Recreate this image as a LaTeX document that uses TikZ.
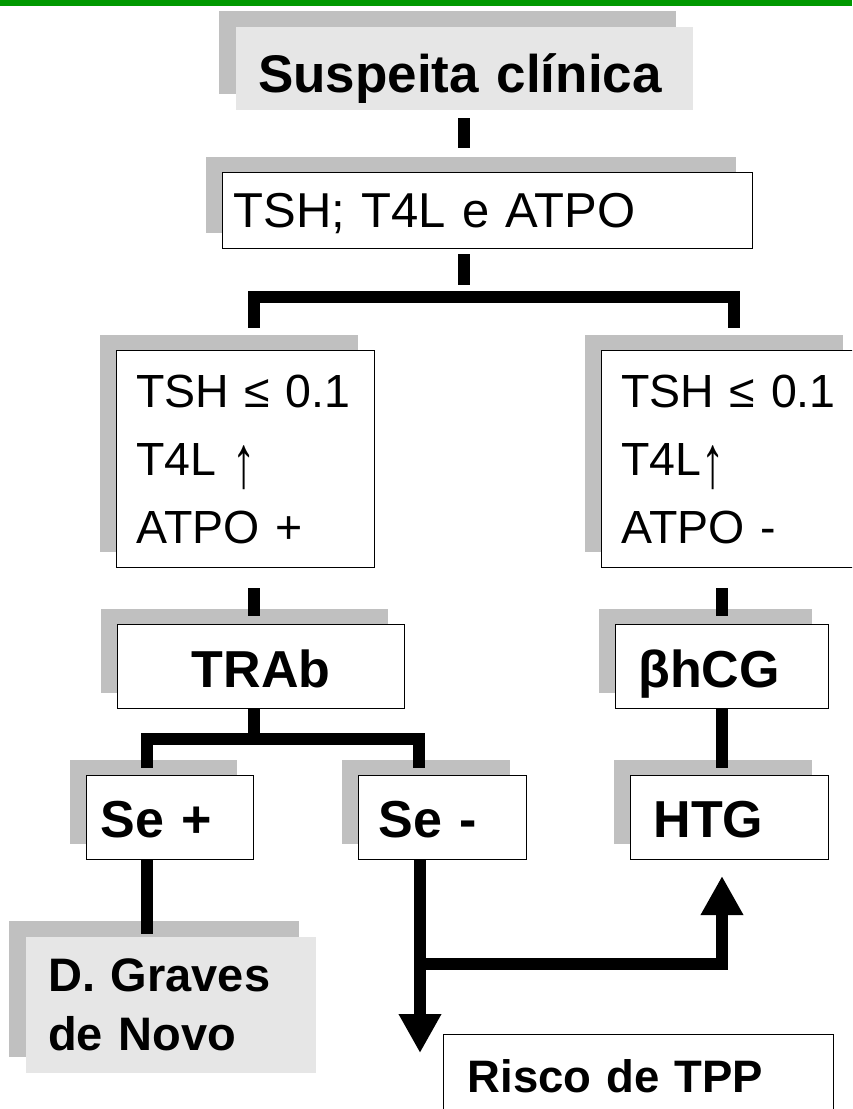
\documentclass[tikz,border=0pt]{standalone}
\usepackage{fontspec}
\setmainfont{Liberation Sans}
\usepackage{graphicx}
\usepackage{tikz}
\usetikzlibrary{arrows.meta,shadows,calc}
\definecolor{topgreen}{RGB}{0,153,0}
\definecolor{shadowgray}{RGB}{192,192,192}
\definecolor{lightgray}{RGB}{230,230,230}
\newcommand{\uparr}{\raisebox{-12pt}{\scalebox{1}[1.6]{↑}}}

\begin{document}
\begin{tikzpicture}[
  x=1pt, y=-1pt,
  every node/.style={anchor=north west, inner ysep=0pt, align=left},
  shade box/.style={general shadow={shadow xshift=-17pt, shadow yshift=16pt,
                    fill=shadowgray}},
  lightbox/.style={fill=lightgray, shade box},
  whitebox/.style={draw=black, line width=1pt, fill=white, shade box},
  plainbox/.style={draw=black, line width=1pt, fill=white},
  hd/.style 2 args={text height=#1, text depth=#2},
  bigbold/.style={font=\fontsize{52}{60}\selectfont\bfseries},
  labs/.style={font=\fontsize{46.5}{68}\selectfont},
  bar/.style={line width=12pt, black},
  bararrow/.style={bar, -{Triangle[length=39pt, width=40pt]}},
]
\useasboundingbox (0,0) rectangle (852,1109);
\clip (0,0) rectangle (852,1109);

%% ── Top band ──────────────────────────────────────────────────────────────
\fill[topgreen] (0,0) rectangle (852,6);

%% ── Boxes ─────────────────────────────────────────────────────────────────
\node[lightbox, inner xsep=22pt, text width=413pt, hd={65pt}{18pt},
      font=\fontsize{53}{60}\selectfont\bfseries]
     (susp) at (236,27) {Suspeita clínica};
\node[whitebox, inner xsep=11pt, text width=508pt, hd={55pt}{21pt},
      font=\fontsize{49}{60}\selectfont]
     (tsh) at (222,172) {TSH; T4L e ATPO};

\node[whitebox, labs, inner xsep=20pt, text width=218pt, minimum height=217pt]
     (tl) at (116,350) {TSH ≤ 0.1\\T4L \uparr\\ATPO +};
\node[whitebox, labs, inner xsep=20pt, text width=218pt, minimum height=217pt]
     (tr) at (601,350) {TSH ≤ 0.1\\T4L\uparr\\ATPO -};

\node[whitebox, bigbold, align=center, inner xsep=10pt, text width=267pt,
      hd={63pt}{21pt}] (trab) at (117,624) {TRAb};
\node[whitebox, bigbold, inner xsep=23pt, text width=167pt, hd={63pt}{21pt}]
     (bhcg) at (615,624) {βhCG};

\node[whitebox, bigbold, inner xsep=14pt, text width=139pt, hd={62pt}{22pt}]
     (sep) at (86,775) {Se +};
\node[whitebox, bigbold, inner xsep=20pt, text width=128pt, hd={62pt}{22pt}]
     (sem) at (358,775) {Se -};
\node[whitebox, bigbold, inner xsep=23pt, text width=152pt, hd={62pt}{22pt}]
     (htg) at (630,775) {HTG};

\node[lightbox, inner xsep=22pt, text width=246pt, minimum height=136pt,
      font=\fontsize{47}{59}\selectfont\bfseries]
     (graves) at (26,937) {D. Graves\\de Novo};
\node[plainbox, inner xsep=24pt, text width=342pt, hd={58pt}{26pt},
      font=\fontsize{45.5}{55}\selectfont\bfseries]
     (tpp) at (443,1034) {Risco de TPP};

%% ── Junction points ───────────────────────────────────────────────────────
\coordinate (fork1) at (464,297);
\coordinate (fl)    at (254,297);
\coordinate (fr)    at (734,297);
\coordinate (rcol)  at (722,700);
\coordinate (fork2) at (254,739);
\coordinate (f2l)   at (147,739);
\coordinate (f2r)   at (419,739);
\coordinate (split) at (420,964);
\coordinate (tppin) at (420,1053);

%% ── Connectors ────────────────────────────────────────────────────────────
% susp -> tsh
\draw[bar, shorten <=8pt, shorten >=24pt] (susp.south -| fork1) -- (fork1 |- tsh.north);

% tsh -> both lab boxes
\draw[bar, shorten <=5pt, shorten >=12pt] (tsh.south -| fork1) -- (fork1);
\draw[bar, line cap=rect] (fl) -- (fr);
\draw[bar, shorten >=22pt] (fl) -- (fl |- tl.north);
\draw[bar, shorten >=22pt] (fr) -- (fr |- tr.north);

% lab boxes -> TRAb / bhCG
\draw[bar, shorten <=20pt, shorten >=8pt] (tl.south -| fl) -- (fl |- trab.north);
\draw[bar, shorten <=20pt, shorten >=8pt] (tr.south -| rcol) -- (rcol |- bhcg.north);

% TRAb -> Se + / Se -
\draw[bar, shorten >=6pt] (trab.south -| fork2) -- (fork2);
\draw[bar, line cap=rect] (f2l) -- (f2r);
\draw[bar, shorten >=7pt] (f2l) -- (f2l |- sep.north);
\draw[bar, shorten >=7pt] (f2r) -- (f2r |- sem.north);

% Se + -> Graves, bhCG -> HTG
\draw[bar, shorten >=3pt] (sep.south -| f2l) -- (f2l |- graves.north);
\draw[bar, shorten >=7pt] (bhcg.south -| rcol) -- (rcol |- htg.north);

% Se - -> TPP risk, and branch up to HTG
\draw[bararrow] (sem.south -| split) -- (tppin);
\draw[bararrow, shorten >=16pt] (split) -| (htg.south -| rcol);

\end{tikzpicture}
\end{document}
